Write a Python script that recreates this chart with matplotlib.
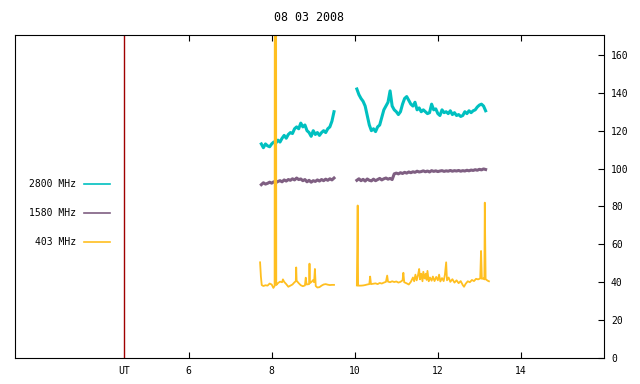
import numpy as np
import matplotlib
matplotlib.use('Agg')
import matplotlib.pyplot as plt

title = '08 03 2008'
ut_marker = 4.45

# 2800 MHz, two segments sampled every 0.05 h
t2800_a = np.arange(7.75, 9.501, 0.05)
v2800_a = [113, 111, 113, 112, 111.5, 113, 114, 113.5, 115, 114, 116, 117.5,
           116, 118, 119, 118.5, 121, 122, 121, 124, 122, 123, 120, 119,
           117, 120, 118, 119, 117.5, 119, 120, 119, 121, 122, 125, 130]
t2800_b = np.arange(10.05, 13.151, 0.05)
v2800_b = [142, 139, 137, 135.5, 133, 128, 123, 120, 121, 119.5, 122, 123,
           127, 131, 133, 135, 141, 133, 131, 130, 128.5, 130, 134, 137,
           138, 136, 134, 133, 135, 131, 132, 130, 131, 130, 129, 129.5,
           134, 131, 131.5, 129, 128, 131, 129.5, 130, 129, 130.5, 128.5, 129.5,
           128, 128.5, 127.5, 128, 130, 129, 130.5, 129.5, 130.5, 131, 132.5, 133.5,
           134, 133, 130.5]

# 1580 MHz
v1580_a = [91.5, 92.5, 91.8, 92.2, 92.8, 92.3, 93, 92.6, 93.2, 93.6, 93, 94,
           93.4, 94.2, 93.8, 94.6, 94, 95, 94.2, 94.5, 93.6, 94.2, 93, 93.8,
           92.8, 93.6, 93.2, 94, 93.4, 94.2, 93.6, 94.4, 93.8, 94.6, 94, 95]
v1580_b = [93.8, 94.6, 93.6, 94.3, 93.4, 94.5, 93.8, 93.5, 94.4, 93.6, 94.2, 94.8,
           94, 94.6, 95, 94.4, 94.8, 94.2, 97.2, 97.6, 97.2, 97.8, 97.4, 98,
           97.6, 98.2, 97.8, 98.3, 98, 98.6, 98.2, 98.4, 98.8, 98.3, 98.7, 98.2,
           98.9, 98.5, 98.8, 98.4, 98.7, 98.9, 98.5, 98.8, 98.6, 99, 98.6, 98.9,
           98.7, 99, 98.6, 98.9, 98.7, 99.1, 98.8, 99.2, 99, 99.4, 99.1, 99.6,
           99.3, 99.8, 99.5]

# 403 MHz, irregular sampling to keep the spikes
t403 = [7.72, 7.74, 7.76, 7.80, 7.85, 7.90, 7.95, 8.00, 8.04, 8.07, 8.08, 8.10,
        8.11, 8.15, 8.20, 8.25, 8.27, 8.30, 8.35, 8.40, 8.45, 8.50, 8.55, 8.58,
        8.59, 8.60, 8.65, 8.70, 8.75, 8.80, 8.82, 8.84, 8.90, 8.91, 8.92, 8.96,
        9.00, 9.02, 9.04, 9.06, 9.10, 9.15, 9.20, 9.25, 9.30, 9.35, 9.40, 9.45,
        9.50, 9.8,
        10.05, 10.07, 10.08, 10.15, 10.20, 10.25, 10.30, 10.35, 10.37, 10.39, 10.45, 10.50,
        10.55, 10.60, 10.65, 10.70, 10.75, 10.78, 10.80, 10.85, 10.90, 10.95, 11.00, 11.05,
        11.10, 11.15, 11.17, 11.19, 11.25, 11.30, 11.35, 11.40, 11.43, 11.46, 11.49, 11.52,
        11.55, 11.57, 11.60, 11.63, 11.65, 11.68, 11.71, 11.73, 11.75, 11.78, 11.81, 11.85,
        11.88, 11.92, 11.96, 12.00, 12.03, 12.06, 12.10, 12.14, 12.17, 12.20, 12.22, 12.26,
        12.30, 12.35, 12.40, 12.45, 12.50, 12.55, 12.60, 12.63, 12.67, 12.72, 12.77, 12.82,
        12.87, 12.92, 12.97, 13.02, 13.04, 13.06, 13.10, 13.12, 13.13, 13.15, 13.20, 13.23]
v403 = [50.5, 43, 38.5, 38, 38.4, 38.2, 39.3, 38.8, 37, 38, 400, 400,
        38.5, 39.5, 40.3, 40, 41.5, 40.2, 39, 37.6, 38.2, 38.8, 40, 40.5,
        47.8, 40.8, 39.5, 38.4, 37.9, 38.3, 42.4, 38.8, 39, 49.8, 39.5, 40.2,
        41.2, 40, 47, 38, 37.2, 37.4, 38.2, 38.8, 39, 38.7, 38.5, 38.6,
        38.6, np.nan,
        38.3, 80.5, 38.2, 38.2, 38.3, 38.5, 38.8, 39, 43, 39, 39.2, 39.4,
        39, 39.6, 39.3, 39.8, 40.2, 43.5, 40.3, 40, 40.5, 40.1, 40.4, 39.8,
        40.2, 41, 45, 40, 39.4, 38.8, 40.2, 42.5, 40.5, 44, 41, 43.5,
        47, 41.5, 44.5, 40.5, 45.5, 42, 44.5, 41.2, 46, 40.5, 42.5, 40.8,
        43, 40.6, 42.8, 41, 44, 40.4, 42.2, 40.6, 44, 50.5, 41, 42.5,
        40.2, 41.6, 39.8, 41, 39.5, 40.6, 38.5, 37.6, 39.2, 40.5, 40, 41.2,
        40.6, 41.8, 41.5, 42, 56.5, 41.8, 42, 41.5, 82, 41.6, 40.8, 40.5]

xticks = [ut_marker, 6, 8, 10, 12, 14]
xticklabels = ['UT', '6', '8', '10', '12', '14']
yticks = [0, 20, 40, 60, 80, 100, 120, 140, 160]

c2800 = '#00c0c0'
c1580 = '#7f5f82'
c403 = '#ffbf20'

plt.rcParams['font.family'] = 'DejaVu Sans Mono'
plt.rcParams['font.size'] = 7

fig = plt.figure(figsize=(6.4, 3.84), dpi=100)
ax = fig.add_axes([15 / 640, 26 / 384, 589 / 640, 323 / 384])

gap = [np.nan]
t_a = list(t2800_a)
t_b = list(t2800_b)
l1, = ax.plot(t_a + [9.8] + t_b, v2800_a + gap + v2800_b, color=c2800, lw=2.2, label='2800 MHz')
l2, = ax.plot(t_a + [9.8] + t_b, v1580_a + gap + v1580_b, color=c1580, lw=2.2, label='1580 MHz')
l3, = ax.plot(t403, v403, color=c403, lw=1.3, label='403 MHz')
ax.axvline(ut_marker, color='#a00000', lw=1)

ax.set_xlim(1.82, 16)
ax.set_ylim(0, 170.5)
ax.set_xticks(xticks)
ax.set_xticklabels(xticklabels)
ax.set_yticks(yticks)
ax.yaxis.tick_right()
ax.tick_params(axis='y', direction='in', length=4, right=True, left=False, pad=5)
ax.tick_params(axis='x', direction='in', length=4, top=True, bottom=True, pad=6)
ax.get_xticklines()[0].set_visible(False)
ax.get_xticklines()[1].set_visible(False)

ax.set_title(title, pad=10)

leg = ax.legend(loc='center right', bbox_to_anchor=(0.161, 0.449), frameon=False,
                markerfirst=False, handlelength=2.7, handletextpad=0.8,
                labelspacing=1.95, borderpad=0, borderaxespad=0)
for h in leg.get_lines():
    h.set_linewidth(1.2)

fig.savefig('out.png', dpi=100)
